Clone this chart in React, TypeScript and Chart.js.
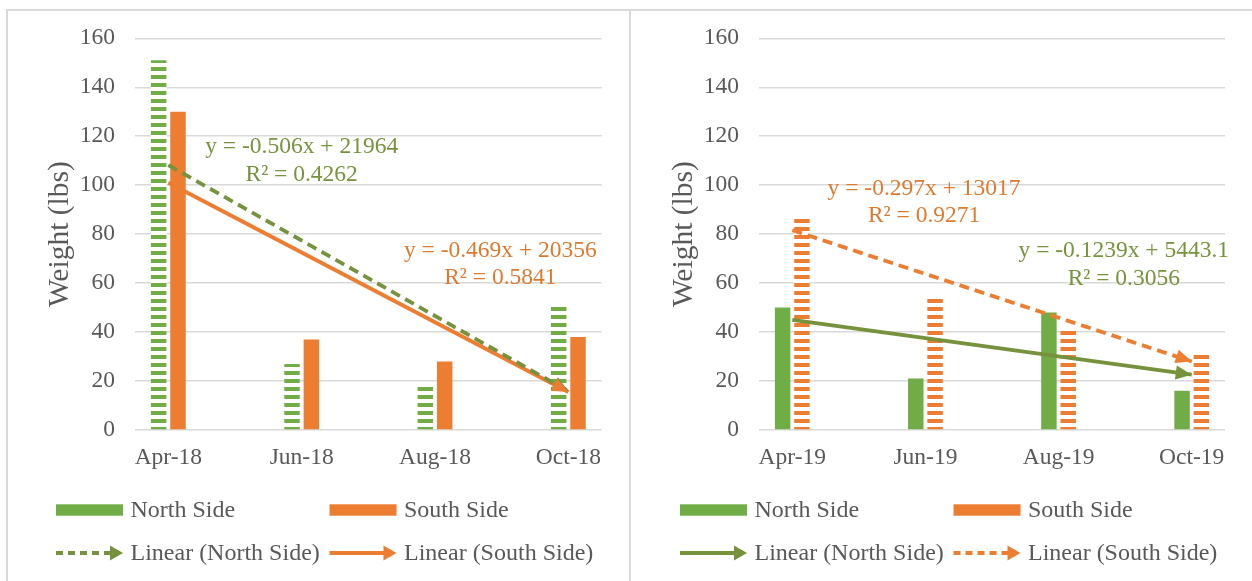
import React, { useEffect, useRef } from 'react';
import { Chart, registerables } from 'chart.js';

Chart.register(...registerables);

// ---------- DATA ----------
const categories2018 = ['Apr-18', 'Jun-18', 'Aug-18', 'Oct-18'];
const categories2019 = ['Apr-19', 'Jun-19', 'Aug-19', 'Oct-19'];
const north2018 = [151, 27, 19, 51];
const south2018 = [130, 37, 28, 38];
const north2019 = [50, 21, 48, 16];
const south2019 = [87, 55, 42, 32];
// trend line values at the first and last month
const northTrend2018 = [108.2, 15.8];
const southTrend2018 = [101, 15.5];
const northTrend2019 = [45, 22.6];
const southTrend2019 = [81.6, 28];
const yTickValues = [0, 20, 40, 60, 80, 100, 120, 140, 160];
const eqNorth2018 = ['y = -0.506x + 21964', 'R² = 0.4262'];
const eqSouth2018 = ['y = -0.469x + 20356', 'R² = 0.5841'];
const eqNorth2019 = ['y = -0.1239x + 5443.1', 'R² = 0.3056'];
const eqSouth2019 = ['y = -0.297x + 13017', 'R² = 0.9271'];

// ---------- STYLE ----------
const GREEN = '#70AD47';
const ORANGE = '#ED7D31';
const GREEN_LINE = '#76923C';
const GREEN_TEXT = '#77933C';
const ORANGE_TEXT = '#DE7A2E';
const TEXT = '#595959';
const FAMILY = '"Liberation Serif", "Times New Roman", serif';

type Eq = { lines: string[]; color: string; x: number; y: number };
type PanelCfg = {
  cats: string[];
  north: number[];
  south: number[];
  northTrend: number[];
  southTrend: number[];
  northStriped: boolean;
  southStriped: boolean;
  northDashed: boolean;
  southDashed: boolean;
  eqs: Eq[];
};

const leftCfg: PanelCfg = {
  cats: categories2018,
  north: north2018,
  south: south2018,
  northTrend: northTrend2018,
  southTrend: southTrend2018,
  northStriped: true,
  southStriped: false,
  northDashed: true,
  southDashed: false,
  eqs: [
    { lines: eqNorth2018, color: GREEN_TEXT, x: 1.0, y: 110 },
    { lines: eqSouth2018, color: ORANGE_TEXT, x: 2.49, y: 67.7 },
  ],
};

const rightCfg: PanelCfg = {
  cats: categories2019,
  north: north2019,
  south: south2019,
  northTrend: northTrend2019,
  southTrend: southTrend2019,
  northStriped: false,
  southStriped: true,
  northDashed: false,
  southDashed: true,
  eqs: [
    { lines: eqSouth2019, color: ORANGE_TEXT, x: 0.99, y: 93 },
    { lines: eqNorth2019, color: GREEN_TEXT, x: 2.49, y: 67.5 },
  ],
};

function makeStripes(color: string): CanvasPattern | string {
  const c = document.createElement('canvas');
  c.width = 8;
  c.height = 8;
  const g = c.getContext('2d');
  if (!g) return color;
  g.fillStyle = '#ffffff';
  g.fillRect(0, 0, 8, 8);
  g.fillStyle = color;
  g.fillRect(0, 0, 8, 4);
  return g.createPattern(c, 'repeat') || color;
}

function drawArrowHead(ctx: CanvasRenderingContext2D, x0: number, y0: number, x1: number, y1: number, color: string, len = 16, wid = 14) {
  const a = Math.atan2(y1 - y0, x1 - x0);
  const bx = x1 - len * Math.cos(a);
  const by = y1 - len * Math.sin(a);
  const px = -Math.sin(a) * wid / 2;
  const py = Math.cos(a) * wid / 2;
  ctx.save();
  ctx.fillStyle = color;
  ctx.beginPath();
  ctx.moveTo(x1, y1);
  ctx.lineTo(bx + px, by + py);
  ctx.lineTo(bx - px, by - py);
  ctx.closePath();
  ctx.fill();
  ctx.restore();
}

const arrowPlugin = {
  id: 'trendArrows',
  afterDatasetsDraw(chart: any) {
    const ctx = chart.ctx as CanvasRenderingContext2D;
    chart.data.datasets.forEach((ds: any, i: number) => {
      if (ds.type !== 'line') return;
      const pts = chart.getDatasetMeta(i).data;
      if (pts.length < 2) return;
      const p0 = pts[0];
      const p1 = pts[pts.length - 1];
      drawArrowHead(ctx, p0.x, p0.y, p1.x, p1.y, ds.borderColor);
    });
  },
};

function makeAnnotationPlugin(cfg: PanelCfg) {
  return {
    id: 'equations',
    afterDatasetsDraw(chart: any) {
      const ctx = chart.ctx as CanvasRenderingContext2D;
      const xs = chart.scales.x;
      const ys = chart.scales.y;
      ctx.save();
      ctx.font = `23.5px ${FAMILY}`;
      ctx.textAlign = 'center';
      ctx.textBaseline = 'middle';
      cfg.eqs.forEach((eq) => {
        const cx = xs.getPixelForValue(eq.x);
        const cy = ys.getPixelForValue(eq.y);
        ctx.fillStyle = eq.color;
        ctx.fillText(eq.lines[0], cx, cy - 13.8);
        ctx.fillText(eq.lines[1], cx, cy + 13.8);
      });
      ctx.restore();
    },
  };
}

function makeLegendPlugin(cfg: PanelCfg) {
  return {
    id: 'customLegend',
    afterDraw(chart: any) {
      const ctx = chart.ctx as CanvasRenderingContext2D;
      const ds = chart.data.datasets;
      const row1 = 499;
      const row2 = 542;
      const col = [48, 321.5];
      const swW = 67;
      const textOff = 74.5;
      ctx.save();
      ctx.font = `24px ${FAMILY}`;
      ctx.textBaseline = 'middle';
      ctx.textAlign = 'left';
      [GREEN, ORANGE].forEach((c, k) => {
        ctx.fillStyle = c;
        ctx.fillRect(col[k], row1 - 5.7, swW, 11.4);
        ctx.fillStyle = TEXT;
        ctx.fillText(ds[k].label, col[k] + textOff, row1 + 1);
      });
      [
        { c: GREEN_LINE, dashed: cfg.northDashed, label: ds[2].label },
        { c: ORANGE, dashed: cfg.southDashed, label: ds[3].label },
      ].forEach((it, k) => {
        const x0 = col[k];
        const x1 = col[k] + swW;
        ctx.save();
        ctx.strokeStyle = it.c;
        ctx.lineWidth = 3.8;
        ctx.setLineDash(it.dashed ? [7, 5] : []);
        ctx.beginPath();
        ctx.moveTo(x0, row2);
        ctx.lineTo(x1 - 11, row2);
        ctx.stroke();
        ctx.restore();
        drawArrowHead(ctx, x0, row2, x1, row2, it.c, 13, 15);
        ctx.fillStyle = TEXT;
        ctx.fillText(it.label, col[k] + textOff, row2 + 1);
      });
      ctx.restore();
    },
  };
}

function ChartPanel({ cfg, left, top, width, height, padRight }: { cfg: PanelCfg; left: number; top: number; width: number; height: number; padRight: number }) {
  const ref = useRef<HTMLCanvasElement | null>(null);
  useEffect(() => {
    if (!ref.current) return;
    const n = cfg.cats.length;
    const tickFont = { family: FAMILY, size: 23.5 };
    const chart = new Chart(ref.current, {
      type: 'bar',
      data: {
        datasets: [
          {
            type: 'bar',
            label: 'North Side',
            data: cfg.north.map((v, i) => ({ x: i, y: v })),
            backgroundColor: cfg.northStriped ? makeStripes(GREEN) : GREEN,
            borderWidth: 0,
            categoryPercentage: 0.29,
            barPercentage: 0.8,
            order: 2,
          } as any,
          {
            type: 'bar',
            label: 'South Side',
            data: cfg.south.map((v, i) => ({ x: i, y: v })),
            backgroundColor: cfg.southStriped ? makeStripes(ORANGE) : ORANGE,
            borderWidth: 0,
            categoryPercentage: 0.29,
            barPercentage: 0.8,
            order: 2,
          } as any,
          {
            type: 'line',
            label: 'Linear (North Side)',
            data: [
              { x: 0, y: cfg.northTrend[0] },
              { x: n - 1, y: cfg.northTrend[1] },
            ],
            borderColor: GREEN_LINE,
            borderWidth: 3.8,
            borderDash: cfg.northDashed ? [10, 6] : [],
            pointRadius: 0,
            fill: false,
            order: 1,
          } as any,
          {
            type: 'line',
            label: 'Linear (South Side)',
            data: [
              { x: 0, y: cfg.southTrend[0] },
              { x: n - 1, y: cfg.southTrend[1] },
            ],
            borderColor: ORANGE,
            borderWidth: 3.8,
            borderDash: cfg.southDashed ? [10, 6] : [],
            pointRadius: 0,
            fill: false,
            order: 1,
          } as any,
        ],
      },
      options: {
        responsive: false,
        animation: false,
        events: [],
        layout: { padding: { left: 0, top: 27.3, right: padRight, bottom: 91 } },
        scales: {
          x: {
            type: 'linear',
            min: -0.25,
            max: n - 1 + 0.25,
            offset: false,
            afterBuildTicks: (s: any) => {
              s.ticks = cfg.cats.map((_, i) => ({ value: i }));
            },
            afterFit: (s: any) => {
              s.height = 60;
            },
            ticks: {
              callback: (_v: any, i: number) => cfg.cats[i] ?? '',
              font: tickFont,
              color: TEXT,
              padding: 6,
              maxRotation: 0,
              autoSkip: false,
            },
            grid: { display: false, offset: false },
            border: { display: false },
          },
          y: {
            min: 0,
            max: 160,
            afterBuildTicks: (s: any) => {
              s.ticks = yTickValues.map((v) => ({ value: v }));
            },
            afterFit: (s: any) => {
              s.width = 127;
            },
            ticks: { font: tickFont, color: TEXT, padding: 0 },
            grid: { color: '#d9d9d9', lineWidth: 1.5, drawTicks: true, tickLength: 20, tickColor: 'rgba(0,0,0,0)' },
            border: { display: false },
            title: {
              display: true,
              text: 'Weight (lbs)',
              font: { family: FAMILY, size: 29.5 },
              color: TEXT,
              padding: { top: 34.2, bottom: 0 },
            },
          },
        },
        plugins: {
          legend: { display: false },
          tooltip: { enabled: false },
        },
      } as any,
      plugins: [arrowPlugin, makeAnnotationPlugin(cfg), makeLegendPlugin(cfg)],
    });
    return () => chart.destroy();
  }, [cfg, padRight]);
  return (
    <canvas
      ref={ref}
      width={width}
      height={height}
      style={{ position: 'absolute', left, top, width, height }}
    />
  );
}

export default function App() {
  return (
    <div style={{ position: 'absolute', left: 0, top: 0, width: 1252, height: 581, overflow: 'hidden', background: '#ffffff' }}>
      <div
        style={{
          position: 'absolute',
          left: 6,
          top: 9,
          width: 625,
          height: 572,
          boxSizing: 'border-box',
          borderLeft: '2px solid #d9d9d9',
          borderTop: '2px solid #d9d9d9',
          borderRight: '2px solid #d9d9d9',
        }}
      />
      <div
        style={{
          position: 'absolute',
          left: 631,
          top: 9,
          width: 621,
          height: 572,
          boxSizing: 'border-box',
          borderTop: '2px solid #d9d9d9',
        }}
      />
      <ChartPanel cfg={leftCfg} left={8} top={11} width={622} height={570} padRight={28.3} />
      <ChartPanel cfg={rightCfg} left={632} top={11} width={620} height={570} padRight={27} />
    </div>
  );
}
